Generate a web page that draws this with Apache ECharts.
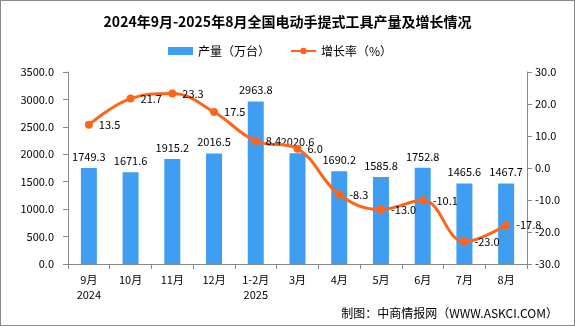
<!DOCTYPE html>
<html><head><meta charset="utf-8">
<script src="https://cdn.jsdelivr.net/npm/echarts@6/dist/echarts.min.js"></script>
<style>html,body{margin:0;padding:0;background:#fff}#c{width:575px;height:326px;box-sizing:border-box;border:1px solid #888}</style>
</head><body><div id="c"></div>
<script>
var categories = ['9月\n2024','10月','11月','12月','1-2月\n2025','3月','4月','5月','6月','7月','8月'];
var production = [1749.3,1671.6,1915.2,2016.5,2963.8,2020.6,1690.2,1585.8,1752.8,1465.6,1467.7];
var growth = [13.5,21.7,23.3,17.5,8.4,6.0,-8.3,-13.0,-10.1,-23.0,-17.8];
var titleText = '2024年9月-2025年8月全国电动手提式工具产量及增长情况';
var sourceText = '制图：中商情报网（WWW.ASKCI.COM）';
var font = 'Noto Sans CJK SC';
var chart = echarts.init(document.getElementById('c'));
chart.setOption({
  animation:false,
  textStyle:{fontFamily:font},
  title:{text:titleText,left:'center',top:9,textStyle:{fontSize:14,fontWeight:'bold',color:'#000',fontFamily:font}},
  graphic:[{type:'text',right:16,bottom:6,style:{text:sourceText,font:'12px '+font,fill:'#000'}}],
  legend:{top:39,left:162,itemGap:20,itemWidth:25,itemHeight:8,textStyle:{fontSize:12,color:'#000'},
    data:[{name:'产量（万台）',icon:'rect'},{name:'增长率（%）'}]},
  grid:{left:67,right:47,top:71,bottom:61},
  xAxis:{type:'category',data:categories,
    axisLine:{lineStyle:{color:'#888'}},axisTick:{show:true,length:5,lineStyle:{color:'#888'}},
    axisLabel:{color:'#000',fontSize:11,interval:0,lineHeight:15,margin:8}},
  yAxis:[{type:'value',min:0,max:3500,interval:500,
    axisLine:{show:true,lineStyle:{color:'#888'}},axisTick:{show:true,length:5,lineStyle:{color:'#888'}},
    splitLine:{show:false},axisLabel:{color:'#000',fontSize:11,margin:14,formatter:function(v){return v.toFixed(1);}}},
   {type:'value',min:-30,max:30,interval:10,
    axisLine:{show:true,lineStyle:{color:'#888'}},axisTick:{show:true,length:5,lineStyle:{color:'#888'}},
    splitLine:{show:false},axisLabel:{color:'#000',fontSize:11,margin:8,formatter:function(v){return v.toFixed(1);}}}],
  series:[{name:'产量（万台）',type:'bar',data:production,barWidth:16,itemStyle:{color:'#3F9EF2'},
     label:{show:true,position:'top',color:'#000',fontSize:11,distance:6,formatter:function(p){return p.value.toFixed(1);}}},
   {name:'增长率（%）',type:'line',yAxisIndex:1,data:growth,smooth:0.4,symbol:'circle',symbolSize:8,
     lineStyle:{color:'#FF651A',width:3},itemStyle:{color:'#FF651A'},
     label:{show:true,position:'right',color:'#000',fontSize:11,distance:6,formatter:function(p){return p.value.toFixed(1);}}}]
});
</script></body></html>
